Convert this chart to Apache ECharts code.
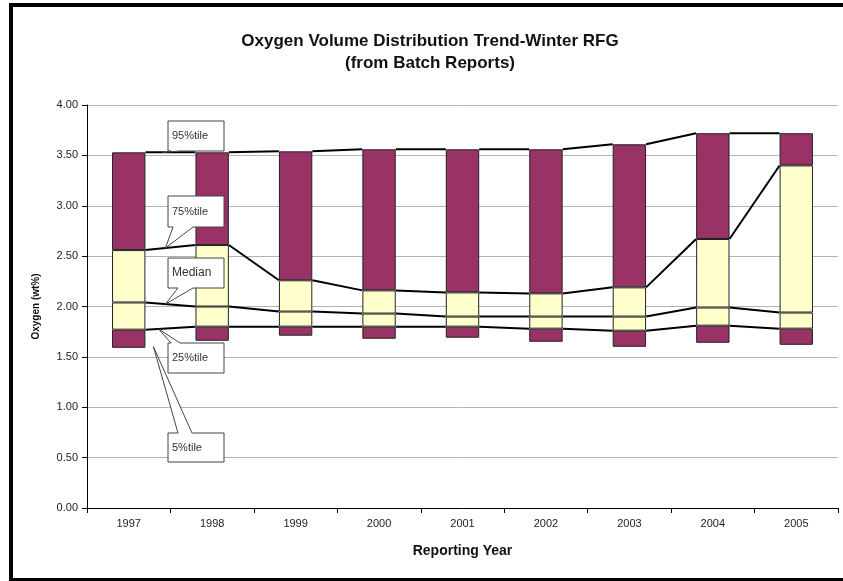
<!DOCTYPE html>
<html>
<head>
<meta charset="utf-8">
<script src="https://cdn.jsdelivr.net/npm/echarts@6/dist/echarts.min.js"></script>
<style>
  html, body { margin: 0; padding: 0; background: #fff; }
  #chart { width: 843px; height: 581px; }
</style>
</head>
<body>
<div id="chart"></div>
<script>
const years = ['1997', '1998', '1999', '2000', '2001', '2002', '2003', '2004', '2005']
const p5 = [1.59, 1.66, 1.71, 1.68, 1.69, 1.65, 1.60, 1.64, 1.62]
const p25 = [1.77, 1.80, 1.80, 1.80, 1.80, 1.78, 1.76, 1.81, 1.78]
const median = [2.04, 2.00, 1.95, 1.93, 1.90, 1.90, 1.90, 1.99, 1.94]
const p75 = [2.56, 2.61, 2.26, 2.16, 2.14, 2.13, 2.19, 2.67, 3.40]
const p95 = [3.53, 3.53, 3.54, 3.56, 3.56, 3.56, 3.61, 3.72, 3.72]

const BAR_RATIO = 0.4
const PURPLE = '#993366'
const CREAM = '#ffffcc'

const diff = (top, bottom) => top.map((v, i) => +(v - bottom[i]).toFixed(3))

const barSeries = (name, data, color) => ({
  name,
  type: 'bar',
  stack: 'dist',
  barWidth: BAR_RATIO * 100 + '%',
  data,
  silent: true,
  itemStyle: color
    ? { color, borderColor: '#222', borderWidth: 1 }
    : { color: 'rgba(0,0,0,0)', borderWidth: 0 }
})

// lines joining the bars from one bar's right edge to the next bar's left edge
const seriesLine = (name, vals) => ({
  name,
  type: 'custom',
  silent: true,
  z: 5,
  encode: { x: 0, y: [1, 2] },
  data: vals.slice(0, -1).map((v, i) => [i, v, vals[i + 1]]),
  renderItem: (params, api) => {
    const i = api.value(0)
    const a = api.coord([i, api.value(1)])
    const b = api.coord([i + 1, api.value(2)])
    const hw = api.size([1, 0])[0] * BAR_RATIO / 2
    return {
      type: 'line',
      shape: { x1: a[0] + hw, y1: a[1], x2: b[0] - hw, y2: b[1] },
      style: { stroke: '#000', lineWidth: 2 }
    }
  }
})

const chart = echarts.init(document.getElementById('chart'), null, { renderer: 'canvas' })

const FONT = '"Liberation Sans", Arial, sans-serif'

chart.setOption({
  animation: false,
  backgroundColor: '#fff',
  title: {
    text: 'Oxygen Volume Distribution Trend-Winter RFG\n(from Batch Reports)',
    left: 425,
    textAlign: 'center',
    top: 25,
    textStyle: { fontFamily: FONT, fontSize: 17, fontWeight: 'bold', color: '#111', lineHeight: 22 }
  },
  grid: { left: 87, right: 5, top: 105, bottom: 73 },
  xAxis: {
    type: 'category',
    data: years,
    name: 'Reporting Year',
    nameLocation: 'middle',
    nameGap: 36,
    nameTextStyle: { fontFamily: FONT, fontSize: 14, fontWeight: 'bold', color: '#111' },
    axisLine: { lineStyle: { color: '#000', width: 1 } },
    axisTick: { show: true, length: 5, lineStyle: { color: '#000' } },
    axisLabel: { fontFamily: FONT, fontSize: 11, color: '#222', margin: 10 },
    splitLine: { show: false }
  },
  yAxis: {
    type: 'value',
    min: 0,
    max: 4,
    interval: 0.5,
    name: 'Oxygen (wt%)',
    nameLocation: 'middle',
    nameGap: 46,
    nameRotate: 90,
    nameTextStyle: { fontFamily: FONT, fontSize: 10, fontWeight: 'bold', color: '#111' },
    axisLine: { show: true, lineStyle: { color: '#000', width: 1 } },
    axisTick: { show: true, length: 5, lineStyle: { color: '#000' } },
    axisLabel: { fontFamily: FONT, fontSize: 11, color: '#222', margin: 9, formatter: v => v.toFixed(2) },
    splitLine: { show: true, lineStyle: { color: '#b4b4b4', width: 1 } }
  },
  series: [
    barSeries('base', p5, null),
    barSeries('5%-25%', diff(p25, p5), PURPLE),
    barSeries('25%-Median', diff(median, p25), CREAM),
    barSeries('Median-75%', diff(p75, median), CREAM),
    barSeries('75%-95%', diff(p95, p75), PURPLE),
    seriesLine('25%tile', p25),
    seriesLine('Median', median),
    seriesLine('75%tile', p75),
    seriesLine('95%tile', p95)
  ]
})

// callout boxes pointing at the lines in the 1997-1998 gap
const gapPoint = (vals, t) => {
  const a = chart.convertToPixel({ xAxisIndex: 0, yAxisIndex: 0 }, [0, vals[0]])
  const b = chart.convertToPixel({ xAxisIndex: 0, yAxisIndex: 0 }, [1, vals[1]])
  const hw = (b[0] - a[0]) * BAR_RATIO / 2
  const x1 = a[0] + hw, x2 = b[0] - hw
  return [x1 + (x2 - x1) * t, a[1] + (b[1] - a[1]) * t]
}

const callout = (label, box, dir, base, tip, fontSize) => {
  const [x0, y0, w, h] = box
  const x1 = x0 + w, y1 = y0 + h
  let pts
  if (dir === 'down') {
    pts = [[x0, y0], [x1, y0], [x1, y1], [base[1], y1], tip, [base[0], y1], [x0, y1]]
  } else {
    pts = [[x0, y0], [base[0], y0], tip, [base[1], y0], [x1, y0], [x1, y1], [x0, y1]]
  }
  return [
    {
      type: 'polygon',
      z: 50,
      shape: { points: pts },
      style: { fill: '#fff', stroke: '#444', lineWidth: 1 }
    },
    {
      type: 'text',
      z: 51,
      x: x0 + 4,
      y: y0 + h / 2,
      style: {
        text: label,
        fontFamily: FONT,
        fontSize: fontSize || 11,
        fill: '#333',
        verticalAlign: 'middle'
      }
    }
  ]
}

const callouts = [
  ...callout('95%tile', [168, 121, 56, 30], 'down', [171, 180], gapPoint(p95, 0.34), 11),
  ...callout('75%tile', [168, 196, 56, 31], 'down', [173, 193], gapPoint(p75, 0.4), 11),
  ...callout('Median', [168, 258, 56, 30], 'down', [178, 193], gapPoint(median, 0.4), 12),
  ...callout('25%tile', [168, 343, 56, 30], 'up', [171, 180], gapPoint(p25, 0.26), 11),
  ...callout('5%tile', [168, 433, 56, 29], 'up', [178, 192], gapPoint(p5, 0.16), 11)
]

const frame = [
  { type: 'rect', shape: { x: 9, y: 3, width: 4, height: 578 }, style: { fill: '#000' }, z: 60 },
  { type: 'rect', shape: { x: 9, y: 3, width: 834, height: 4 }, style: { fill: '#000' }, z: 60 },
  { type: 'rect', shape: { x: 9, y: 578, width: 834, height: 3 }, style: { fill: '#000' }, z: 60 }
]

chart.setOption({ graphic: [...callouts, ...frame] })
</script>
</body>
</html>
